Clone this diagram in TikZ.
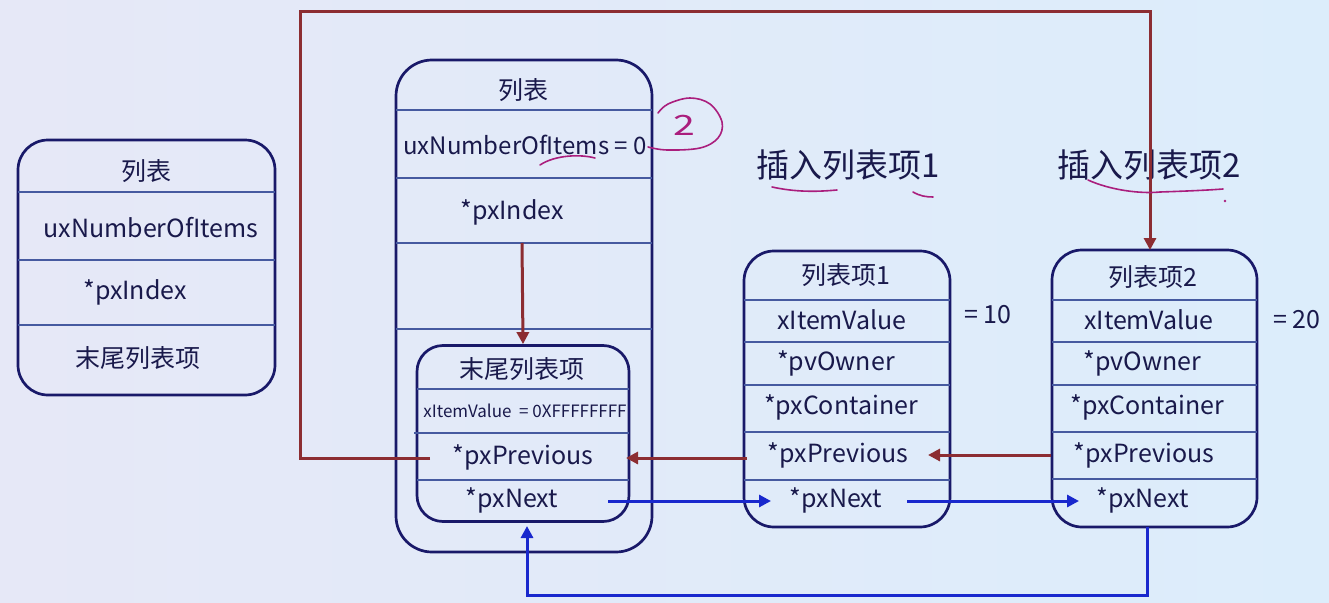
\documentclass[tikz,border=0pt]{standalone}
\usepackage{fontspec}
\setmainfont{Noto Sans CJK SC}
\usetikzlibrary{arrows.meta}
\definecolor{bgL}{RGB}{230,232,247}
\definecolor{bgR}{RGB}{220,237,251}
\definecolor{navy}{RGB}{25,25,105}
\definecolor{rowc}{RGB}{70,90,160}
\definecolor{redc}{RGB}{140,45,50}
\definecolor{bluec}{RGB}{25,40,205}
\definecolor{mag}{RGB}{170,30,125}
\definecolor{txt}{RGB}{25,25,75}
\begin{document}
\begin{tikzpicture}[x=1pt,y=-1pt,
  box/.style={draw=navy, line width=2.7pt, inner sep=0pt},
  row/.style={draw=rowc, line width=1.2pt},
  lbl/.style={text=txt, inner sep=0pt, font=\fontsize{25}{29}\selectfont},
  small/.style={text=txt, inner sep=0pt, font=\fontsize{17}{20}\selectfont},
  title/.style={text=txt, inner sep=0pt, font=\fontsize{33}{38}\selectfont},
  redline/.style={draw=redc, line width=3pt},
  blueline/.style={draw=bluec, line width=3pt},
  redarrow/.style={redline, -{Triangle[length=12pt,width=12pt]}},
  bluearrow/.style={blueline, -{Triangle[length=12pt,width=12pt]}},
  hand/.style={draw=mag, line width=1.6pt, line cap=round}]
% background
\shade[left color=bgL, right color=bgR] (0,0) rectangle (1329,602);
\useasboundingbox (0,0) rectangle (1329,602);

% ---- left list box
\node[box, rounded corners=30pt, minimum width=257pt, minimum height=255pt] (L) at (146.5,267.5) {};
\draw[row] (18,192) -- (275,192);
\draw[row] (18,260) -- (275,260);
\draw[row] (18,325) -- (275,325);
\node[lbl] (Lt) at (146,171) {列表};
\node[lbl] (Lnum) at (151,228) {uxNumberOfItems};
\node[lbl] (Lidx) at (135,292) {*pxIndex};
\node[lbl] (Lend) at (138,358) {末尾列表项};

% ---- big list box
\node[box, rounded corners=36pt, minimum width=256pt, minimum height=492pt] (B) at (524,306) {};
\draw[row] (396,110) -- (652,110);
\draw[row] (396,178) -- (652,178);
\draw[row] (396,243) -- (652,243);
\draw[row] (396,329) -- (652,329);
\node[lbl] (Bt) at (523,90) {列表};
\node[lbl, font=\fontsize{24}{28}\selectfont] (Bnum) at (525,145) {uxNumberOfItems = 0};
\node[lbl] (Bidx) at (512,212) {*pxIndex};
\coordinate (Bidxs) at (522,243);

% ---- inner end item
\node[box, rounded corners=26pt, minimum width=212pt, minimum height=176pt] (T) at (523,433.5) {};
\draw[row] (417,389) -- (629,389);
\draw[row] (414,433) -- (629,433);
\draw[row] (417,480) -- (629,480);
\node[lbl] (Tt) at (522,369) {末尾列表项};
\node[small] (Tval) at (525,411) {xItemValue\ \ = 0XFFFFFFFF};
\node[lbl] (Tprev) at (523,457) {*pxPrevious};
\node[lbl] (Tnext) at (512,500) {*pxNext};

% ---- item 1
\node[box, rounded corners=30pt, minimum width=206pt, minimum height=276pt] (I1) at (847,389) {};
\draw[row] (744,300) -- (950,300);
\draw[row] (744,342) -- (950,342);
\draw[row] (744,385) -- (950,385);
\draw[row] (744,432) -- (950,432);
\draw[row] (744,480) -- (950,480);
\node[lbl] (I1t) at (846,275) {列表项1};
\node[lbl] (I1val) at (842,320) {xItemValue};
\node[lbl] (I1own) at (836,363) {*pvOwner};
\node[lbl] (I1con) at (841,407) {*pxContainer};
\node[lbl] (I1prev) at (838,455) {*pxPrevious};
\node[lbl] (I1next) at (836,500) {*pxNext};
\node[lbl] (I1eq) at (988,315) {= 10};

% ---- item 2
\node[box, rounded corners=30pt, minimum width=205pt, minimum height=277pt] (I2) at (1154.5,388.5) {};
\draw[row] (1052,300) -- (1257,300);
\draw[row] (1052,342) -- (1257,342);
\draw[row] (1052,385) -- (1257,385);
\draw[row] (1052,432) -- (1257,432);
\draw[row] (1052,479) -- (1257,479);
\node[lbl] (I2t) at (1153,277) {列表项2};
\node[lbl] (I2val) at (1149,320) {xItemValue};
\node[lbl] (I2own) at (1142.5,363) {*pvOwner};
\node[lbl] (I2con) at (1147.5,407) {*pxContainer};
\node[lbl] (I2prev) at (1144,455) {*pxPrevious};
\node[lbl] (I2next) at (1142.5,500) {*pxNext};
\node[lbl] (I2eq) at (1297,320) {= 20};

% ---- titles
\node[title] (Ins1) at (848,165) {插入列表项1};
\node[title] (Ins2) at (1149,165) {插入列表项2};

% ---- connector end points
\coordinate (Tprevl) at (430,458);
\coordinate (Tprevr) at (626,458);
\coordinate (I1prevl) at (747,458);
\coordinate (I1prevr) at (928,455);
\coordinate (I2prevl) at (1051,455);
\coordinate (I2top) at (1150,250);
\coordinate (Tnextr) at (608,501);
\coordinate (I1nextl) at (771,501);
\coordinate (I1nextr) at (907,501);
\coordinate (I2nextl) at (1079,501);
\coordinate (I2bot) at (1147,527);
\coordinate (Tbot) at (527,526);

% ---- red connectors
\draw[redarrow] (Bidxs) -- (T.north);
\draw[redarrow] (I1prevl) -- (Tprevr);
\draw[redarrow] (I2prevl) -- (I1prevr);
\draw[redarrow] (Tprevl) -| (300,12) -| (I2top);

% ---- blue connectors
\draw[bluearrow] (Tnextr) -- (I1nextl);
\draw[bluearrow] (I1nextr) -- (I2nextl);
\draw[bluearrow] (I2bot) |- (527,595) -- (Tbot);

% ---- handwritten annotations
\draw[hand] plot[smooth, tension=0.6] coordinates {(648,147) (667,150) (700,148) (718,138) (722,122) (710,104) (690,98) (668,104) (658,113)};
\node[text=mag, inner sep=0pt, font=\fontsize{28}{32}\selectfont, xscale=1.4] (two) at (684,125) {2};
\draw[hand] (540,165) .. controls (555,155) and (580,154) .. (595,158);
\draw[hand] (772,187) .. controls (795,192) and (815,192) .. (837,190);
\draw[hand] (913,192) .. controls (920,196) and (926,197) .. (933,197);
\draw[hand] (1088,180) .. controls (1110,190) and (1140,194) .. (1160,192) .. controls (1190,191) and (1210,190) .. (1223,189);
\fill[mag] (1225,201) circle (1.3pt);
\end{tikzpicture}
\end{document}
